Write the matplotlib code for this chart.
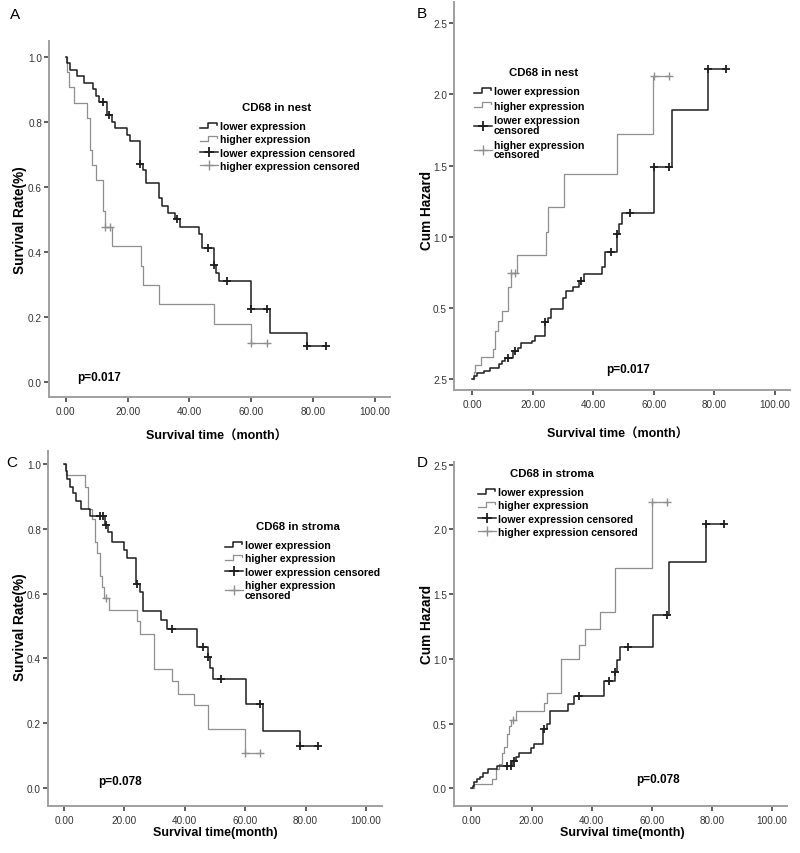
import numpy as np
import matplotlib
matplotlib.use("Agg")
import matplotlib.pyplot as plt
from matplotlib.lines import Line2D
from matplotlib.legend_handler import HandlerBase

plt.rcParams['font.family'] = ['Liberation Sans', 'Noto Sans CJK SC', 'DejaVu Sans']

#panel A / B : CD68 in nest
nest_low_t = [0, 0.5, 1.5, 3.8, 5.8, 8.8, 9.8, 10.8, 13.5, 15.0, 16.0, 19.7, 20.8, 24.0, 25.0,
              26.0, 30.0, 31.0, 33.2, 35.2, 37.0, 43.0, 44.0, 47.8, 48.5, 49.5, 60.0, 66.0, 78.0]
nest_low_surv = [1.0, 0.98, 0.96, 0.94, 0.92, 0.90, 0.88, 0.86, 0.82, 0.80, 0.78, 0.76, 0.74, 0.67, 0.65,
                 0.61, 0.565, 0.54, 0.52, 0.50, 0.475, 0.455, 0.41, 0.36, 0.335, 0.31, 0.225, 0.15, 0.11]
nest_low_haz = [0, 0.02, 0.04, 0.06, 0.08, 0.105, 0.13, 0.15, 0.20, 0.22, 0.25, 0.27, 0.30, 0.40, 0.43,
                0.49, 0.57, 0.62, 0.65, 0.69, 0.74, 0.79, 0.89, 1.02, 1.09, 1.17, 1.49, 1.89, 2.18]
nest_low_cens_t = [12.0, 14.0, 24.0, 36.0, 46.0, 48.0, 52.0, 60.0, 65.0, 78.0, 84.0]
nest_low_cens_surv = [0.86, 0.82, 0.67, 0.50, 0.41, 0.36, 0.31, 0.225, 0.225, 0.11, 0.11]
nest_low_cens_haz = [0.15, 0.20, 0.40, 0.69, 0.89, 1.02, 1.17, 1.49, 1.49, 2.18, 2.18]

nest_high_t = [0, 0.5, 1.1, 2.8, 7.0, 7.7, 8.6, 9.7, 12.0, 12.7, 14.9, 24.3, 25.1, 30.2, 47.8, 59.8]
nest_high_surv = [1.0, 0.952, 0.905, 0.857, 0.81, 0.714, 0.667, 0.619, 0.524, 0.476, 0.417, 0.357,
                  0.298, 0.238, 0.179, 0.119]
nest_high_haz = [0, 0.05, 0.10, 0.155, 0.21, 0.34, 0.405, 0.48, 0.645, 0.745, 0.875, 1.03, 1.21,
                 1.44, 1.72, 2.13]
nest_high_cens_t = [12.8, 14.2, 60.0, 65.0]
nest_high_cens_surv = [0.476, 0.476, 0.119, 0.119]
nest_high_cens_haz = [0.745, 0.745, 2.13, 2.13]

#panel C / D : CD68 in stroma
str_low_t = [0, 0.55, 0.9, 2.0, 2.9, 4.0, 5.5, 8.6, 13.6, 14.7, 15.8, 19.9, 20.8, 23.9, 25.0, 26.0,
             32.0, 34.0, 44.2, 47.8, 48.4, 49.5, 60.3, 65.9, 78.0]
str_low_surv = [1.0, 0.977, 0.955, 0.93, 0.91, 0.885, 0.86, 0.838, 0.813, 0.79, 0.76, 0.735, 0.71,
                0.63, 0.605, 0.548, 0.52, 0.49, 0.436, 0.405, 0.37, 0.337, 0.26, 0.175, 0.13]
str_low_haz = [0, 0.02, 0.05, 0.07, 0.09, 0.12, 0.15, 0.17, 0.21, 0.24, 0.27, 0.31, 0.34, 0.46,
               0.50, 0.60, 0.65, 0.71, 0.83, 0.90, 0.99, 1.09, 1.34, 1.75, 2.04]
str_low_cens_t = [12.0, 13.0, 14.0, 24.3, 35.8, 45.9, 47.8, 52.0, 65.0, 78.0, 84.2]
str_low_cens_surv = [0.838, 0.838, 0.813, 0.63, 0.49, 0.436, 0.405, 0.337, 0.26, 0.13, 0.13]
str_low_cens_haz = [0.17, 0.17, 0.21, 0.46, 0.71, 0.83, 0.90, 1.09, 1.34, 2.04, 2.04]

str_high_t = [0, 0.7, 7.0, 8.1, 9.2, 10.3, 11.0, 11.9, 12.5, 13.2, 14.9, 24.1, 25.0, 29.8, 35.7,
              37.9, 42.9, 47.8, 60.0]
str_high_surv = [1.0, 0.965, 0.93, 0.862, 0.83, 0.76, 0.725, 0.655, 0.62, 0.586, 0.55, 0.517, 0.477,
                 0.368, 0.33, 0.29, 0.256, 0.183, 0.11]
str_high_haz = [0, 0.035, 0.07, 0.15, 0.19, 0.27, 0.32, 0.42, 0.48, 0.53, 0.60, 0.66, 0.74, 1.0,
                1.11, 1.23, 1.36, 1.70, 2.21]
str_high_cens_t = [13.9, 60.0, 65.0]
str_high_cens_surv = [0.586, 0.11, 0.11]
str_high_cens_haz = [0.53, 2.21, 2.21]

x_ticks = [0, 20, 40, 60, 80, 100]
x_tick_labels = ['0.00', '20.00', '40.00', '60.00', '80.00', '100.00']
surv_ticks = [0.0, 0.2, 0.4, 0.6, 0.8, 1.0]
surv_tick_labels = ['0.0', '0.2', '0.4', '0.6', '0.8', '1.0']
haz_ticks = [0.0, 0.5, 1.0, 1.5, 2.0, 2.5]
haz_tick_labels_b = ['2.5', '0.5', '1.0', '1.5', '2.0', '2.5']
haz_tick_labels_d = ['0.0', '0.5', '1.0', '1.5', '2.0', '2.5']

low_color = '#1e1e1e'
high_color = '#8f8f8f'
W, H = 800, 854


class StepHandler(HandlerBase):
    def create_artists(self, legend, orig_handle, xdescent, ydescent, width, height, fontsize, trans):
        xs = np.array([0, 0.42, 0.42, 0.95, 0.95]) * width - xdescent
        ys = np.array([0.2, 0.2, 0.85, 0.85, 0.6]) * height - ydescent
        ln = Line2D(xs, ys, color=orig_handle.get_color(), lw=orig_handle.get_linewidth())
        ln.set_transform(trans)
        return [ln]


def add_ax(fig, left, top, right, bottom):
    return fig.add_axes([left / W, 1 - bottom / H, (right - left) / W, (bottom - top) / H])


def ftext(fig, x, y, s, **kw):
    fig.text(x / W, 1 - y / H, s, **kw)


def draw(ax, lt, lv, lct, lcv, ht, hv, hct, hcv):
    # extend each curve to its last censored time
    ax.step(list(ht) + [max(hct)], list(hv) + [hv[-1]], where='post', color=high_color, lw=0.9)
    ax.step(list(lt) + [max(lct)], list(lv) + [lv[-1]], where='post', color=low_color, lw=1.1)
    ax.plot(hct, hcv, ls='none', marker='+', ms=6, mew=1.0, color=high_color)
    ax.plot(lct, lcv, ls='none', marker='+', ms=6, mew=1.3, color=low_color)
    for s in ['top', 'right']:
        ax.spines[s].set_visible(False)
    for s in ['left', 'bottom']:
        ax.spines[s].set_color('#a0a0a0')
        ax.spines[s].set_linewidth(1.4)
    ax.tick_params(direction='out', length=3.5, width=1.1, color='#333333',
                   labelsize=7.2, labelcolor='#333333', pad=1.5)
    ax.tick_params(axis='x', pad=3)
    ax.set_xticks(x_ticks)
    ax.set_xticklabels(x_tick_labels)


def legend(ax, fig, x, y, labels, spacing=0.32):
    handles = [Line2D([], [], color=low_color, lw=1.1),
               Line2D([], [], color=high_color, lw=0.9),
               Line2D([], [], color=low_color, lw=1.1, marker='+', ms=7, mew=1.3),
               Line2D([], [], color=high_color, lw=0.9, marker='+', ms=7, mew=1.0)]
    leg = ax.legend(handles, labels, loc='upper left', bbox_to_anchor=(x / W, 1 - y / H),
                    bbox_transform=fig.transFigure, frameon=False, borderpad=0, borderaxespad=0,
                    handlelength=1.7, handletextpad=0.15, labelspacing=spacing,
                    prop={'weight': 'bold', 'size': 7.6},
                    handler_map={handles[0]: StepHandler(), handles[1]: StepHandler()})
    for t in leg.get_texts():
        t.set_linespacing(0.95)
    return leg


fig = plt.figure(figsize=(8, 8.54), dpi=100)
bold = dict(fontweight='bold')

#A
ax = add_ax(fig, 49, 42, 390, 398)
draw(ax, nest_low_t, nest_low_surv, nest_low_cens_t, nest_low_cens_surv,
     nest_high_t, nest_high_surv, nest_high_cens_t, nest_high_cens_surv)
ax.set_xlim(-5.4, 104.8)
ax.set_ylim(-0.047, 1.048)
ax.set_yticks(surv_ticks)
ax.set_yticklabels(surv_tick_labels)
legend(ax, fig, 200, 122, ['lower expression', 'higher expression',
                           'lower expression censored', 'higher expression censored'])
ftext(fig, 277, 108, 'CD68 in nest', ha='center', va='center', size=8.2, **bold)
ftext(fig, 77, 378, 'p=0.017', ha='left', va='center', size=8.5, **bold)
ftext(fig, 20, 220, 'Survival Rate(%)', rotation=90, ha='center', va='center', size=9.8, **bold)
ftext(fig, 217, 437, 'Survival time（month）', ha='center', va='center', size=9, **bold)
ftext(fig, 15, 15, 'A', ha='center', va='center', size=11)

#B
ax = add_ax(fig, 454, 3, 790, 391)
draw(ax, nest_low_t, nest_low_haz, nest_low_cens_t, nest_low_cens_haz,
     nest_high_t, nest_high_haz, nest_high_cens_t, nest_high_cens_haz)
ax.set_xlim(-6.0, 105.0)
ax.set_ylim(-0.077, 2.65)
ax.set_yticks(haz_ticks)
ax.set_yticklabels(haz_tick_labels_b)
legend(ax, fig, 474, 87, ['lower expression', 'higher expression',
                          'lower expression\ncensored', 'higher expression\ncensored'], spacing=0.45)
ftext(fig, 544, 73, 'CD68 in nest', ha='center', va='center', size=8.2, **bold)
ftext(fig, 628, 370, 'p=0.017', ha='center', va='center', size=8.5, **bold)
ftext(fig, 427, 210, 'Cum Hazard', rotation=90, ha='center', va='center', size=9.8, **bold)
ftext(fig, 618, 435, 'Survival time（month）', ha='center', va='center', size=9, **bold)
ftext(fig, 422, 14, 'B', ha='center', va='center', size=11)

#C
ax = add_ax(fig, 48, 452, 382, 807)
draw(ax, str_low_t, str_low_surv, str_low_cens_t, str_low_cens_surv,
     str_high_t, str_high_surv, str_high_cens_t, str_high_cens_surv)
ax.set_xlim(-5.3, 105.3)
ax.set_ylim(-0.055, 1.04)
ax.set_yticks(surv_ticks)
ax.set_yticklabels(surv_tick_labels)
legend(ax, fig, 225, 541, ['lower expression', 'higher expression',
                           'lower expression censored', 'higher expression\ncensored'])
ftext(fig, 298, 527, 'CD68 in stroma', ha='center', va='center', size=8.2, **bold)
ftext(fig, 98, 782, 'p=0.078', ha='left', va='center', size=8.5, **bold)
ftext(fig, 20, 627, 'Survival Rate(%)', rotation=90, ha='center', va='center', size=9.8, **bold)
ftext(fig, 215, 833, 'Survival time(month)', ha='center', va='center', size=9, **bold)
ftext(fig, 12, 463, 'C', ha='center', va='center', size=11)

#D
ax = add_ax(fig, 454, 463, 787, 807)
draw(ax, str_low_t, str_low_haz, str_low_cens_t, str_low_cens_haz,
     str_high_t, str_high_haz, str_high_cens_t, str_high_cens_haz)
ax.set_xlim(-5.8, 105.0)
ax.set_ylim(-0.136, 2.52)
ax.set_yticks(haz_ticks)
ax.set_yticklabels(haz_tick_labels_d)
legend(ax, fig, 478, 488, ['lower expression', 'higher expression',
                           'lower expression censored', 'higher expression censored'])
ftext(fig, 552, 474, 'CD68 in stroma', ha='center', va='center', size=8.2, **bold)
ftext(fig, 658, 780, 'p=0.078', ha='center', va='center', size=8.5, **bold)
ftext(fig, 427, 625, 'Cum Hazard', rotation=90, ha='center', va='center', size=9.8, **bold)
ftext(fig, 622, 833, 'Survival time(month)', ha='center', va='center', size=9, **bold)
ftext(fig, 422, 463, 'D', ha='center', va='center', size=11)

fig.savefig('out.png', dpi=100)
